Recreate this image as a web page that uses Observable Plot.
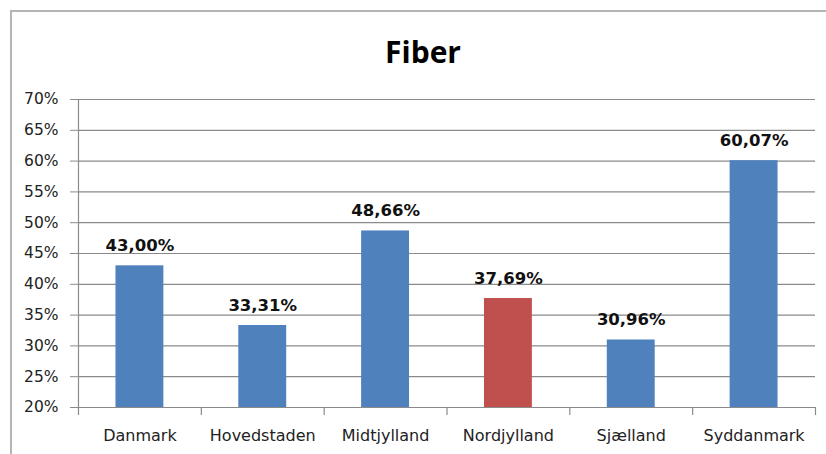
<!DOCTYPE html>
<html>
<head>
<meta charset="utf-8">
<script src="https://cdn.jsdelivr.net/npm/d3@7"></script>
<script src="https://cdn.jsdelivr.net/npm/@observablehq/plot@0.6"></script>
<style>
  html, body { margin: 0; padding: 0; background: #fff; }
  #wrap { position: relative; width: 826px; height: 454px; overflow: hidden; }
  #border { position: absolute; left: 10px; top: 10px; width: 830px; height: 460px;
            border-left: 2px solid #b4b4b4; border-top: 2px solid #b4b4b4; box-sizing: border-box; }
  #chart { position: absolute; left: 0; top: 0; }
</style>
</head>
<body>
<div id="wrap"><div id="border"></div><div id="chart"></div></div>
<script>
const title = "Fiber";
const regions = ["Danmark", "Hovedstaden", "Midtjylland", "Nordjylland", "Sjælland", "Syddanmark"];
const values = [43.00, 33.31, 48.66, 37.69, 30.96, 60.07];
const labels = ["43,00%", "33,31%", "48,66%", "37,69%", "30,96%", "60,07%"];
const yTicks = [20, 25, 30, 35, 40, 45, 50, 55, 60, 65, 70];
const highlighted = "Nordjylland";

const data = regions.map((r, i) => ({region: r, value: values[i], label: labels[i]}));

const W = 826, H = 454;
const mL = 78, mR = 11, mT = 99, mB = 47;
const step = (W - mL - mR) / regions.length;
const grid = "#8a8a8a";
const font = "DejaVu Sans, Verdana, sans-serif";

const chart = Plot.plot({
  width: W, height: H,
  marginLeft: mL, marginRight: mR, marginTop: mT, marginBottom: mB,
  style: {fontFamily: font, background: "transparent", overflow: "visible"},
  x: {domain: regions, paddingInner: 0.61, paddingOuter: 0.305, round: false},
  y: {domain: [20, 70]},
  marks: [
    Plot.ruleY(yTicks, {stroke: grid, strokeWidth: 1.2}),
    Plot.frame({anchor: "left", stroke: grid, strokeWidth: 1.2}),
    Plot.axisY({ticks: yTicks, tickFormat: d => d + "%", tickSize: 8, tickPadding: 12,
                stroke: grid, fontSize: 15.5, fill: "#222", label: null}),
    Plot.axisX({tickSize: 0, tickPadding: 22, fontSize: 16, fill: "#222", label: null}),
    Plot.ruleX(regions, {x: d => d, y1: 20, y2: 20, dx: -step / 2, insetBottom: -8, stroke: grid, strokeWidth: 1.2}),
    Plot.ruleX([regions[regions.length - 1]], {x: d => d, y1: 20, y2: 20, dx: step / 2, insetBottom: -8, stroke: grid, strokeWidth: 1.2}),
    Plot.barY(data, {x: "region", y1: 20, y2: "value",
                     fill: d => d.region === highlighted ? "#C0504D" : "#4F81BD"}),
    Plot.text(data, {x: "region", y: "value", text: "label", lineAnchor: "bottom", dy: -15,
                     fontSize: 16.5, fontWeight: "bold", fill: "#111"}),
    Plot.text([title], {frameAnchor: "top", dy: -37, dx: -24, lineAnchor: "bottom",
                        fontFamily: "Open Sans, sans-serif", fontSize: 30, fontWeight: "bold", fill: "#000"})
  ]
});
document.getElementById("chart").appendChild(chart);
</script>
</body>
</html>
